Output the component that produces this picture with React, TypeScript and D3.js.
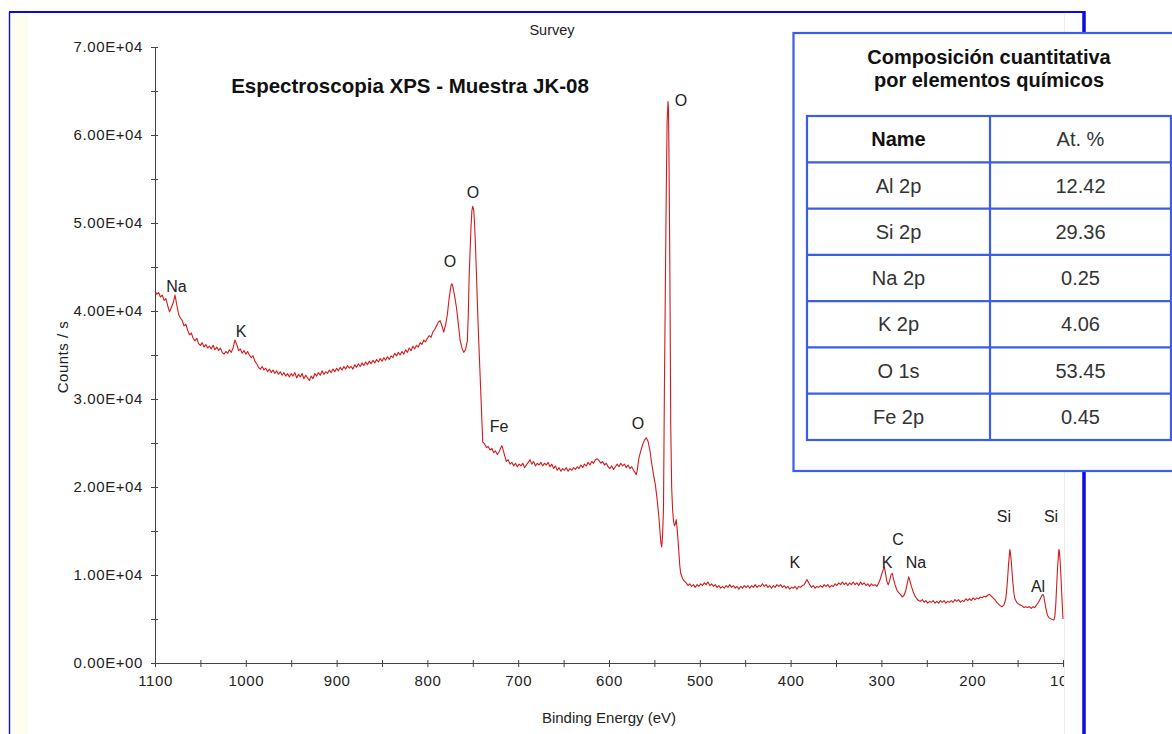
import { useRef, useEffect } from "react";
import * as d3 from "d3";

// survey spectrum, [binding energy eV, counts/s]
const spectrum: [number, number][] = [
  [1100, 42300], [1098, 41900], [1096, 42100], [1094, 41600], [1092, 41800], [1090, 41200],
  [1088, 41400], [1086, 40600], [1084, 39900], [1082, 40400], [1080, 40900], [1078, 41800],
  [1076, 40700], [1074, 39600], [1072, 39200], [1070, 38900], [1068, 38300], [1066, 38500],
  [1064, 37800], [1062, 37300], [1060, 37500], [1058, 36900], [1056, 36600], [1054, 36900],
  [1052, 36300], [1050, 36100], [1048, 36400], [1046, 35900], [1044, 36200], [1042, 35800],
  [1040, 36000], [1038, 35700], [1036, 36100], [1034, 35600], [1032, 35900], [1030, 35500],
  [1028, 35800], [1026, 35300], [1024, 35100], [1022, 35400], [1020, 35200], [1018, 35600],
  [1016, 35300], [1014, 35800], [1012, 36700], [1010, 36200], [1008, 35500], [1006, 35700],
  [1004, 35200], [1002, 35500], [1000, 35100], [998, 35400], [996, 35000], [994, 34700],
  [992, 34900], [990, 34300], [988, 34000], [986, 33600], [984, 33400], [982, 33700],
  [980, 33300], [978, 33500], [976, 33100], [974, 33400], [972, 33000], [970, 33300],
  [968, 32900], [966, 33200], [964, 32800], [962, 33100], [960, 32700], [958, 33000],
  [956, 32600], [954, 32900], [952, 32500], [950, 32900], [948, 32600], [946, 33000],
  [944, 32400], [942, 32800], [940, 32500], [938, 32900], [936, 32300], [934, 32700],
  [932, 32400], [930, 32100], [928, 32600], [926, 32300], [924, 32900], [922, 32600],
  [920, 33000], [918, 32700], [916, 33200], [914, 32800], [912, 33100], [910, 32900],
  [908, 33300], [906, 33000], [904, 33400], [902, 33100], [900, 33500], [898, 33200],
  [896, 33600], [894, 33300], [892, 33700], [890, 33400], [888, 33800], [886, 33500],
  [884, 33700], [882, 33400], [880, 33900], [878, 33600], [876, 34000], [874, 33700],
  [872, 34100], [870, 33800], [868, 34200], [866, 33900], [864, 34300], [862, 34000],
  [860, 34400], [858, 34100], [856, 34500], [854, 34200], [852, 34600], [850, 34300],
  [848, 34700], [846, 34400], [844, 34800], [842, 34500], [840, 34900], [838, 34700],
  [836, 35200], [834, 34900], [832, 35300], [830, 35000], [828, 35400], [826, 35100],
  [824, 35600], [822, 35300], [820, 35800], [818, 35500], [816, 36000], [814, 35700],
  [812, 36100], [810, 35900], [808, 36400], [806, 36200], [804, 36700], [802, 36500],
  [800, 36900], [798, 37200], [796, 37000], [794, 37600], [792, 37900], [790, 38300],
  [788, 38700], [786, 38900], [784, 38300], [782, 37600], [780, 38400], [778, 39600],
  [776, 41500], [774, 42900], [773, 43100], [772, 42800], [770, 41700], [768, 40400],
  [766, 38600], [764, 36700], [762, 35800], [760, 35300], [758, 35600], [756, 36600],
  [755, 39500], [754, 44000], [752, 49500], [751, 51400], [750, 51900], [749, 51500],
  [748, 49800], [747, 47200], [746, 44300], [745, 41000], [744, 38000], [743, 35400],
  [742, 32800], [741, 30200], [740, 27500], [739, 25100], [737, 24900], [735, 24500],
  [733, 24600], [731, 24200], [729, 24400], [727, 23900], [725, 24100], [723, 23700],
  [721, 24000], [719, 24500], [718, 24700], [717, 24400], [715, 23600], [713, 22900],
  [711, 23100], [709, 22600], [707, 22800], [705, 22400], [703, 22700], [701, 22300],
  [699, 22600], [697, 22400], [695, 22700], [693, 22200], [691, 22500], [689, 22800],
  [687, 23100], [685, 22600], [683, 22900], [681, 22400], [679, 22700], [677, 22500],
  [675, 22800], [673, 22400], [671, 22700], [669, 22500], [667, 22800], [665, 22300],
  [663, 22600], [661, 22100], [659, 22400], [657, 21900], [655, 22200], [653, 21800],
  [651, 22100], [649, 21900], [647, 22200], [645, 21800], [643, 22100], [641, 21900],
  [639, 22200], [637, 22000], [635, 22300], [633, 22100], [631, 22500], [629, 22200],
  [627, 22600], [625, 22400], [623, 22800], [621, 22500], [619, 22900], [617, 22700],
  [615, 23100], [613, 23200], [611, 23000], [609, 22700], [607, 22900], [605, 22500],
  [603, 22700], [601, 22300], [599, 22100], [597, 22400], [595, 22000], [593, 22300],
  [591, 22600], [589, 22300], [587, 22700], [585, 22400], [583, 22600], [581, 22200],
  [579, 22500], [577, 22100], [575, 22300], [573, 21900], [571, 21600], [570, 21400],
  [569, 21800], [568, 22600], [567, 23300], [565, 24100], [563, 24800], [561, 25300],
  [559, 25600], [557, 25200], [555, 24200], [553, 22700], [551, 21400], [549, 20300],
  [547, 18600], [545, 16500], [543, 13800], [542, 13200], [541, 14500], [540, 17500],
  [539.5, 24000], [539, 31000], [538, 42000], [537, 53000], [536, 61500], [535, 63800],
  [534.5, 63000], [534, 58000], [533.5, 52000], [533, 45000], [532.5, 36000], [532, 27000],
  [531, 20000], [530, 17500], [529, 16200], [528, 15600], [527, 15800], [526, 16300],
  [525, 15300], [524, 14000], [523, 12500], [522, 11000], [521, 10200], [519, 9600],
  [517, 9300], [515, 9100], [513, 8800], [511, 9000], [509, 8700], [507, 8900],
  [505, 8600], [503, 8900], [501, 8700], [499, 9000], [497, 8800], [495, 9100],
  [493, 8900], [491, 9200], [489, 8800], [487, 9000], [485, 8700], [483, 8900],
  [481, 8600], [479, 8800], [477, 8500], [475, 8700], [473, 8500], [471, 8800],
  [469, 8600], [467, 8900], [465, 8600], [463, 8800], [461, 8500], [459, 8700],
  [457, 8400], [455, 8700], [453, 8500], [451, 8800], [449, 8600], [447, 8800],
  [445, 8500], [443, 8800], [441, 8600], [439, 8900], [437, 8600], [435, 8800],
  [433, 8700], [431, 9000], [429, 8700], [427, 8900], [425, 8600], [423, 8800],
  [421, 8500], [419, 8800], [417, 8600], [415, 8900], [413, 8700], [411, 8900],
  [409, 8600], [407, 8800], [405, 8500], [403, 8700], [401, 8400], [399, 8600],
  [397, 8500], [395, 8700], [393, 8400], [391, 8700], [389, 8600], [387, 8800],
  [385, 8900], [383, 9300], [382, 9500], [381, 9300], [379, 8900], [377, 8600],
  [375, 8800], [373, 8500], [371, 8700], [369, 8600], [367, 8800], [365, 8600],
  [363, 8900], [361, 8700], [359, 8900], [357, 8600], [355, 8800], [353, 8700],
  [351, 9000], [349, 8800], [347, 9100], [345, 8900], [343, 9200], [341, 8900],
  [339, 9100], [337, 8800], [335, 9100], [333, 8900], [331, 9200], [329, 8900],
  [327, 9100], [325, 8800], [323, 9200], [321, 8900], [319, 9100], [317, 8800],
  [315, 9000], [313, 8700], [311, 9000], [309, 8800], [307, 8900], [305, 8700],
  [303, 9100], [301, 9600], [299, 10300], [297, 10900], [296, 10500], [294, 9300],
  [292.5, 8900], [291, 9300], [289.5, 10000], [288, 10200], [287, 9700], [285, 8900],
  [283, 8300], [281, 8000], [279, 7800], [277, 7500], [275, 7700], [273, 8300],
  [271, 9300], [270, 9800], [269, 9500], [267, 8700], [265, 8100], [263, 7600],
  [261, 7300], [259, 7100], [257, 7000], [255, 7200], [253, 6900], [251, 7100],
  [249, 6800], [247, 7000], [245, 6900], [243, 7100], [241, 6800], [239, 7000],
  [237, 6800], [235, 7100], [233, 6900], [231, 7100], [229, 6800], [227, 7000],
  [225, 6900], [223, 7100], [221, 6900], [219, 7200], [217, 7000], [215, 7200],
  [213, 6900], [211, 7100], [209, 7000], [207, 7300], [205, 7100], [203, 7300],
  [201, 7100], [199, 7400], [197, 7200], [195, 7400], [193, 7300], [191, 7500],
  [189, 7400], [187, 7600], [185, 7500], [183, 7700], [181, 7800], [179, 7600],
  [177, 7400], [175, 7200], [173, 6900], [171, 6700], [169, 6500], [167, 6400],
  [165, 6600], [163, 7300], [162, 8300], [161, 9600], [160, 11200], [159, 12400],
  [158.5, 12900], [158, 12600], [157, 11600], [156, 10200], [155, 8900], [154, 7900],
  [153, 7300], [151, 6900], [149, 6700], [147, 6600], [145, 6500], [143, 6300],
  [141, 6400], [139, 6300], [137, 6400], [135, 6200], [133, 6400], [131, 6300],
  [129, 6600], [127, 6900], [125, 7300], [123, 7700], [122, 7800], [121, 7500],
  [120, 6900], [119, 6300], [118, 5800], [117, 5400], [115, 5100], [113, 5000],
  [111, 4900], [110, 4900], [109, 5300], [108, 6600], [107, 8700], [106, 10800],
  [105, 12300], [104.5, 12900], [104, 12700], [103, 11300], [102, 9300], [101, 7000],
  [100, 5000],
];

// peak annotations: label, binding energy, counts (text baseline)
const peakNames = ["Na", "K", "O", "O", "O", "Fe", "O", "K", "C", "K", "Na", "Si", "Si", "Al"];
const peakEnergies = [1076.3, 1005.3, 775.1, 749.8, 520.8, 721.1, 568.1, 395.2, 281.7, 293.8, 261.9, 165, 113.2, 127.5];
const peakCounts = [42160, 37050, 45000, 52840, 63300, 26250, 26590, 10800, 13410, 10800, 10800, 16020, 16020, 8070];

const yTicks = [0, 10000, 20000, 30000, 40000, 50000, 60000, 70000];
const yMinorTicks = [5000, 15000, 25000, 35000, 45000, 55000, 65000];
const xTicks = [1100, 1000, 900, 800, 700, 600, 500, 400, 300, 200, 100];
const xMinorTicks = [1050, 950, 850, 750, 650, 550, 450, 350, 250, 150];

const tableTitle = ["Composición cuantitativa", "por elementos químicos"];
const tableHeader = ["Name", "At. %"];
const elementNames = ["Al 2p", "Si 2p", "Na 2p", "K 2p", "O 1s", "Fe 2p"];
const atomicPercent = ["12.42", "29.36", "0.25", "4.06", "53.45", "0.45"];

const FONT = "'Liberation Sans', Arial, sans-serif";

function sci(v: number) {
  const [m, e] = v.toExponential(2).split("e");
  const n = +e;
  return `${m}E${n < 0 ? "-" : "+"}${String(Math.abs(n)).padStart(2, "0")}`;
}

export default function App() {
  const svgRef = useRef<SVGSVGElement>(null);
  const width = 1172;
  const height = 734;

  useEffect(() => {
    const svg = d3.select(svgRef.current);
    svg.selectAll("*").remove();

    svg.append("rect").attr("width", width).attr("height", height).attr("fill", "#fff");
    // faint strip on the left of the frame
    svg.append("rect").attr("x", 10).attr("y", 13).attr("width", 18).attr("height", height)
      .attr("fill", "#fffdf0");

    const x = d3.scaleLinear().domain([1100, 100]).range([155, 1063]);
    const y = d3.scaleLinear().domain([0, 70000]).range([663, 47]);

    svg.append("clipPath").attr("id", "plotclip")
      .append("rect").attr("x", 0).attr("y", 0).attr("width", 1064).attr("height", height);

    // chart image edge
    svg.append("line").attr("x1", 1064.5).attr("x2", 1064.5).attr("y1", 14).attr("y2", height)
      .attr("stroke", "#ececec");

    const g = svg.append("g").attr("clip-path", "url(#plotclip)")
      .style("font-family", FONT);

    // x axis
    const xAxis = g.append("g").attr("transform", `translate(0,${y(0)})`)
      .call(d3.axisBottom(x).tickValues(xTicks).tickSizeOuter(0).tickPadding(6).tickFormat(d3.format("d")));
    xAxis.selectAll(".tick line").attr("y1", -3).attr("y2", 4);
    g.append("g").attr("transform", `translate(0,${y(0)})`)
      .call(d3.axisBottom(x).tickValues(xMinorTicks).tickSizeOuter(0).tickFormat(() => ""))
      .call((s) => s.select(".domain").remove())
      .selectAll(".tick line").attr("y1", -3).attr("y2", 4);

    // y axis
    const yAxis = g.append("g").attr("transform", `translate(${x(1100)},0)`)
      .call(d3.axisLeft(y).tickValues(yTicks).tickSizeOuter(0).tickPadding(6).tickFormat((d) => sci(+d)));
    yAxis.selectAll(".tick line").attr("x1", -4).attr("x2", 3);
    g.append("g").attr("transform", `translate(${x(1100)},0)`)
      .call(d3.axisLeft(y).tickValues(yMinorTicks).tickSizeOuter(0).tickFormat(() => ""))
      .call((s) => s.select(".domain").remove())
      .selectAll(".tick line").attr("x1", -4).attr("x2", 3);

    svg.selectAll(".domain, .tick line").attr("stroke", "#444");
    svg.selectAll(".tick text")
      .attr("fill", "#222")
      .style("font-family", FONT)
      .style("font-size", "15px")
      .style("letter-spacing", "0.6px");

    // spectrum
    const line = d3.line<[number, number]>().x((d) => x(d[0])).y((d) => y(d[1]));
    g.append("path").datum(spectrum).attr("d", line)
      .attr("fill", "none").attr("stroke", "#d41a1a").attr("stroke-width", 1.1)
      .attr("stroke-linejoin", "round");

    // peak labels
    g.selectAll(".peak").data(peakNames).enter().append("text")
      .attr("class", "peak")
      .attr("x", (_, i) => x(peakEnergies[i]))
      .attr("y", (_, i) => y(peakCounts[i]))
      .attr("text-anchor", "middle")
      .attr("fill", "#222")
      .style("font-size", "16px")
      .text((d) => d);

    // axis titles
    g.append("text").attr("x", 552).attr("y", 35).attr("text-anchor", "middle")
      .attr("fill", "#222").style("font-size", "14.5px").text("Survey");
    g.append("text").attr("x", 410).attr("y", 93).attr("text-anchor", "middle")
      .attr("fill", "#111").style("font-size", "20.5px").style("font-weight", "bold")
      .text("Espectroscopia XPS - Muestra JK-08");
    g.append("text").attr("x", 609).attr("y", 723).attr("text-anchor", "middle")
      .attr("fill", "#222").style("font-size", "15px").text("Binding Energy (eV)");
    g.append("text").attr("transform", "translate(68,357) rotate(-90)").attr("text-anchor", "middle")
      .attr("fill", "#222").style("font-size", "15px").style("letter-spacing", "0.5px")
      .text("Counts / s");

    // blue frame
    const blue = "#0a0ae8";
    svg.append("line").attr("x1", 9).attr("x2", 1085).attr("y1", 12).attr("y2", 12)
      .attr("stroke", blue).attr("stroke-width", 2.2);
    svg.append("line").attr("x1", 9.5).attr("x2", 9.5).attr("y1", 12).attr("y2", height)
      .attr("stroke", blue).attr("stroke-width", 1.4);
    svg.append("line").attr("x1", 1084).attr("x2", 1084).attr("y1", 11).attr("y2", height)
      .attr("stroke", blue).attr("stroke-width", 3.5);

    // composition table
    const tblColor = "#3a5ee4";
    const t = svg.append("g").style("font-family", FONT);
    t.append("rect").attr("x", 793.5).attr("y", 33).attr("width", 420).attr("height", 438)
      .attr("fill", "#fff").attr("stroke", tblColor).attr("stroke-width", 2.2);

    t.selectAll(".ttl").data(tableTitle).enter().append("text")
      .attr("x", 989).attr("y", (_, i) => 64 + i * 23)
      .attr("text-anchor", "middle").attr("fill", "#111")
      .style("font-size", "20px").style("font-weight", "bold")
      .text((d) => d);

    const rows = d3.scaleBand<string>().domain(["header", ...elementNames]).range([116, 440]);
    const cols = d3.scaleBand<string>().domain(["name", "pct"]).range([807, 1171]);
    const colX = [807, 990, 1171];

    t.append("rect").attr("x", colX[0]).attr("y", rows.range()[0])
      .attr("width", colX[2] - colX[0]).attr("height", rows.range()[1] - rows.range()[0])
      .attr("fill", "none").attr("stroke", tblColor).attr("stroke-width", 2.2);
    t.append("line").attr("x1", colX[1]).attr("x2", colX[1])
      .attr("y1", rows.range()[0]).attr("y2", rows.range()[1])
      .attr("stroke", tblColor).attr("stroke-width", 2.2);
    t.selectAll(".rowline").data(rows.domain().slice(1)).enter().append("line")
      .attr("x1", colX[0]).attr("x2", colX[2])
      .attr("y1", (d) => rows(d)!).attr("y2", (d) => rows(d)!)
      .attr("stroke", tblColor).attr("stroke-width", 2.2);

    const cx = [(colX[0] + colX[1]) / 2, (colX[1] + colX[2]) / 2];
    t.selectAll(".hdr").data(tableHeader).enter().append("text")
      .attr("x", (_, i) => cx[i]).attr("y", rows("header")! + rows.bandwidth() / 2)
      .attr("dy", "0.36em").attr("text-anchor", "middle")
      .attr("fill", (_, i) => (i === 0 ? "#111" : "#333"))
      .style("font-size", "20px").style("font-weight", (_, i) => (i === 0 ? "bold" : "normal"))
      .text((d) => d);
    t.selectAll(".nm").data(elementNames).enter().append("text")
      .attr("x", cx[0]).attr("y", (d) => rows(d)! + rows.bandwidth() / 2)
      .attr("dy", "0.36em").attr("text-anchor", "middle").attr("fill", "#333")
      .style("font-size", "20px").text((d) => d);
    t.selectAll(".pc").data(atomicPercent).enter().append("text")
      .attr("x", cx[1]).attr("y", (_, i) => rows(elementNames[i])! + rows.bandwidth() / 2)
      .attr("dy", "0.36em").attr("text-anchor", "middle").attr("fill", "#333")
      .style("font-size", "20px").text((d) => d);
    void cols;
  }, []);

  return (
    <svg
      ref={svgRef}
      width={width}
      height={height}
      style={{ position: "absolute", left: 0, top: 0, display: "block" }}
    />
  );
}
